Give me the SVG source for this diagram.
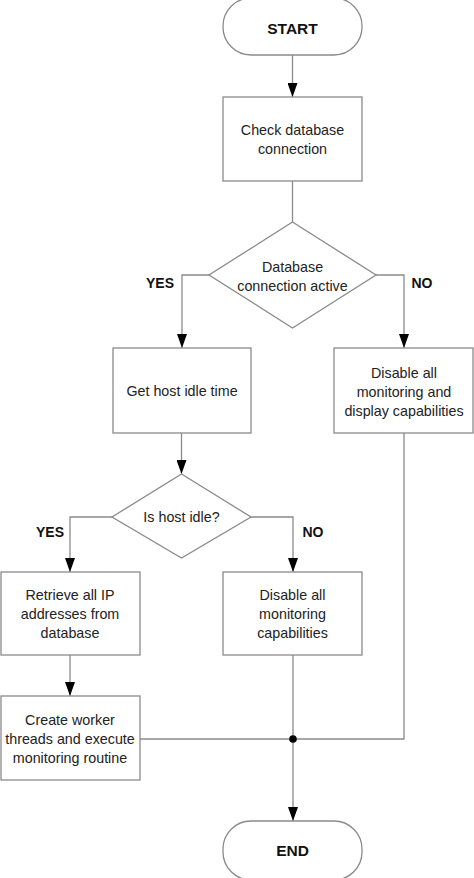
<svg xmlns="http://www.w3.org/2000/svg" width="474" height="878" viewBox="0 0 474 878">
<style>
.box{fill:#fff;stroke:#8a8a8a;stroke-width:1.3}
.ln{fill:none;stroke:#8a8a8a;stroke-width:1.3}
.t{font-family:"Liberation Sans",Arial,sans-serif;font-size:14.3px;fill:#222;text-anchor:middle}
.b{font-family:"Liberation Sans",Arial,sans-serif;font-weight:bold;fill:#111;text-anchor:middle}
</style>
<defs>
<marker id="arr" viewBox="0 0 14 10" refX="14" refY="5" markerWidth="14" markerHeight="10" orient="auto" markerUnits="userSpaceOnUse">
<path d="M0,0 L14,5 L0,10 Z" fill="#000"/>
</marker>
</defs>
<rect width="474" height="878" fill="#fff"/>
<g id="connectors">
<path class="ln" d="M292.5,55 V97" marker-end="url(#arr)"/>
<path class="ln" d="M292.5,181 V222"/>
<path class="ln" d="M209,275 H182 V348" marker-end="url(#arr)"/>
<path class="ln" d="M376,275 H404 V348" marker-end="url(#arr)"/>
<path class="ln" d="M181.5,433 V474" marker-end="url(#arr)"/>
<path class="ln" d="M112,517 H70 V572" marker-end="url(#arr)"/>
<path class="ln" d="M251,517 H293 V572" marker-end="url(#arr)"/>
<path class="ln" d="M70,655 V696" marker-end="url(#arr)"/>
<path class="ln" d="M404,433 V739 H140"/>
<path class="ln" d="M293,655 V821" marker-end="url(#arr)"/>
<circle cx="293" cy="739" r="3.8" fill="#000"/>
<text class="b" x="160" y="288" font-size="14">YES</text>
<text class="b" x="422" y="288" font-size="14">NO</text>
<text class="b" x="50" y="537" font-size="14">YES</text>
<text class="b" x="313" y="537" font-size="14">NO</text>
</g>
<g id="start">
<rect class="box" x="223" y="-2" width="139" height="57" rx="28" ry="28"/>
<text class="b" x="292.5" y="34" font-size="15.5">START</text>
</g>
<g id="check">
<rect class="box" x="223" y="97" width="139" height="84"/>
<text class="t" x="292.5" y="135">Check database</text>
<text class="t" x="292.5" y="154">connection</text>
</g>
<g id="dbactive">
<polygon class="box" points="292.5,222 376,275 292.5,328 209,275"/>
<text class="t" x="292.5" y="272">Database</text>
<text class="t" x="292.5" y="291">connection active</text>
</g>
<g id="idletime">
<rect class="box" x="113" y="348" width="138" height="85"/>
<text class="t" x="182" y="396">Get host idle time</text>
</g>
<g id="disableall">
<rect class="box" x="334" y="348" width="139" height="85"/>
<text class="t" x="404" y="378">Disable all</text>
<text class="t" x="404" y="397">monitoring and</text>
<text class="t" x="404" y="416">display capabilities</text>
</g>
<g id="isidle">
<polygon class="box" points="181.5,474 251,517 181.5,558 112,517"/>
<text class="t" x="181.5" y="522">Is host idle?</text>
</g>
<g id="retrieve">
<rect class="box" x="1" y="572" width="139" height="83"/>
<text class="t" x="70" y="600">Retrieve all IP</text>
<text class="t" x="70" y="619">addresses from</text>
<text class="t" x="70" y="638">database</text>
</g>
<g id="disablemon">
<rect class="box" x="223" y="572" width="139" height="83"/>
<text class="t" x="292.5" y="600">Disable all</text>
<text class="t" x="292.5" y="619">monitoring</text>
<text class="t" x="292.5" y="638">capabilities</text>
</g>
<g id="create">
<rect class="box" x="1" y="696" width="139" height="84"/>
<text class="t" x="70" y="725">Create worker</text>
<text class="t" x="70" y="744">threads and execute</text>
<text class="t" x="70" y="763">monitoring routine</text>
</g>
<g id="end">
<rect class="box" x="223" y="821" width="139" height="59" rx="28" ry="28"/>
<text class="b" x="292.5" y="856" font-size="15.5">END</text>
</g>
</svg>
